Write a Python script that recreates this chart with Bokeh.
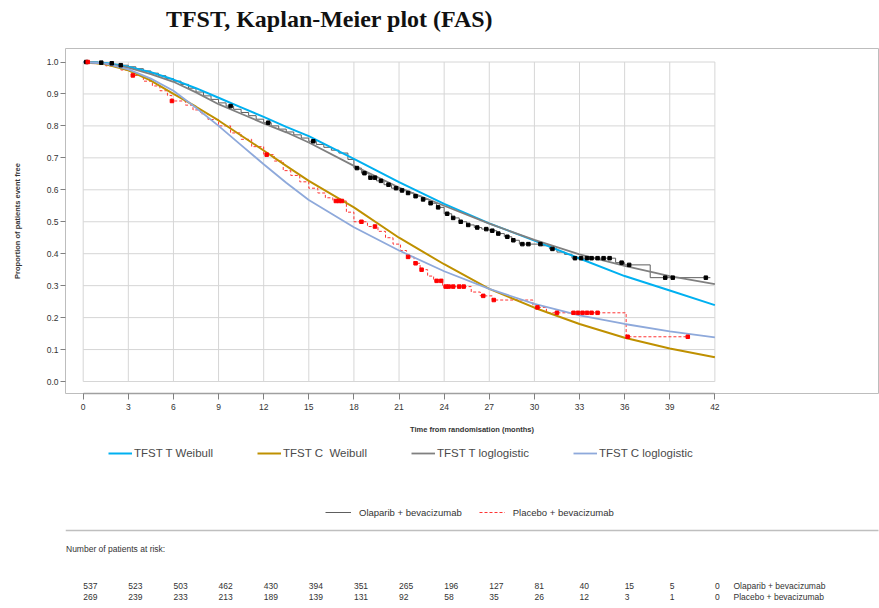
import numpy as np
from bokeh.plotting import figure
from bokeh.layouts import column
from bokeh.models import (Range1d, FixedTicker, Label, ColumnDataSource,
                          Legend, LegendItem, PrintfTickFormatter)
from bokeh.embed import file_html
from bokeh.resources import INLINE
from bokeh.core.properties import value

# ---------------- data ----------------
x_ticks = [0, 3, 6, 9, 12, 15, 18, 21, 24, 27, 30, 33, 36, 39, 42]
y_ticks = [0.0, 0.1, 0.2, 0.3, 0.4, 0.5, 0.6, 0.7, 0.8, 0.9, 1.0]

fit_t = [0, 1.5, 3, 4.5, 6, 7.5, 9, 10.5, 12, 13.5, 15, 18, 21, 24, 27, 30, 33, 36, 39, 42]
weibull_T = [1.0, 0.997, 0.985, 0.968, 0.945, 0.918, 0.888, 0.858, 0.828, 0.797, 0.768,
             0.697, 0.624, 0.556, 0.495, 0.441, 0.385, 0.330, 0.285, 0.239]
weibull_C = [1.0, 0.993, 0.974, 0.942, 0.900, 0.860, 0.817, 0.770, 0.723, 0.675, 0.628,
             0.545, 0.450, 0.367, 0.290, 0.231, 0.180, 0.137, 0.103, 0.076]
loglog_T = [1.0, 0.995, 0.982, 0.962, 0.938, 0.905, 0.868, 0.838, 0.808, 0.780, 0.748,
            0.675, 0.607, 0.550, 0.494, 0.443, 0.398, 0.362, 0.330, 0.305]
loglog_C = [1.0, 0.995, 0.977, 0.948, 0.910, 0.857, 0.800, 0.740, 0.680, 0.622, 0.568,
            0.483, 0.410, 0.345, 0.290, 0.243, 0.207, 0.180, 0.157, 0.138]

ola_t = [0, 0.5, 1.0, 1.5, 2.0, 2.5, 3.0, 3.5, 4.0, 4.5, 5.0, 5.5, 6.0, 6.5, 7.0, 7.5, 8.0,
         8.5, 9.0, 9.5, 10.0, 10.5, 11.0, 11.5, 12.0, 12.5, 13.0, 13.5, 14.0, 14.5, 15.0,
         15.5, 16.0, 16.5, 17.0, 17.6, 18.0, 18.5, 19.0, 19.5, 20.0, 20.5, 21.0, 21.5, 22.0,
         22.5, 23.0, 23.5, 24.0, 24.5, 25.0, 25.5, 26.0, 26.5, 27.0, 27.5, 28.0, 28.5, 29.0,
         30.5, 31.0, 31.5, 32.0, 32.5, 35.4, 36.0, 37.7, 41.7]
ola_s = [1.0, 1.0, 0.998, 0.996, 0.993, 0.990, 0.985, 0.979, 0.972, 0.965, 0.957, 0.948,
         0.940, 0.930, 0.918, 0.906, 0.894, 0.883, 0.872, 0.862, 0.852, 0.842, 0.832, 0.821,
         0.810, 0.800, 0.790, 0.781, 0.772, 0.762, 0.752, 0.742, 0.733, 0.724, 0.715, 0.695,
         0.668, 0.652, 0.638, 0.628, 0.616, 0.605, 0.598, 0.590, 0.580, 0.570, 0.558, 0.545,
         0.525, 0.512, 0.500, 0.490, 0.482, 0.477, 0.472, 0.463, 0.453, 0.442, 0.430, 0.425,
         0.415, 0.405, 0.398, 0.386, 0.372, 0.365, 0.325, 0.325]
ola_cens = [0.2, 1.2, 1.9, 2.5, 9.8, 12.3, 15.3, 18.2, 18.7, 19.1, 19.4, 19.8, 20.3, 20.8,
            21.2, 21.6, 22.1, 22.6, 23.1, 23.6, 24.2, 24.6, 25.1, 25.6, 26.2, 26.8, 27.2,
            27.6, 28.2, 28.6, 29.2, 29.6, 30.4, 31.2, 32.7, 33.1, 33.5, 33.8, 34.2, 34.6,
            35.0, 35.8, 36.3, 38.7, 39.2, 41.4]

pla_t = [0, 0.5, 1.5, 2.5, 3.2, 4.0, 4.6, 5.1, 5.6, 5.9, 6.8, 7.3, 7.8, 8.3, 9.0, 9.8, 10.5,
         11.2, 12.0, 12.7, 13.3, 13.8, 14.4, 15.0, 15.6, 16.1, 16.6, 17.5, 18.0, 18.9, 19.6,
         20.1, 20.6, 21.1, 21.5, 22.0, 22.4, 22.9, 23.3, 23.9, 25.8, 26.4, 27.2, 29.9, 30.8,
         36.1, 40.3]
pla_s = [1.0, 0.995, 0.988, 0.975, 0.958, 0.940, 0.925, 0.910, 0.895, 0.878, 0.865, 0.850,
         0.838, 0.820, 0.800, 0.778, 0.758, 0.735, 0.710, 0.690, 0.660, 0.645, 0.625, 0.605,
         0.590, 0.575, 0.565, 0.530, 0.500, 0.485, 0.470, 0.450, 0.430, 0.410, 0.390, 0.370,
         0.350, 0.330, 0.315, 0.297, 0.280, 0.268, 0.255, 0.232, 0.215, 0.140, 0.140]
pla_cens = [0.3, 3.3, 5.9, 12.2, 16.8, 17.0, 17.2, 18.5, 19.4, 21.6, 22.1, 22.5, 23.5, 23.8,
            24.1, 24.3, 24.6, 25.0, 25.3, 26.6, 27.3, 30.2, 31.5, 32.6, 32.9, 33.2, 33.5,
            33.8, 34.2, 36.2, 40.2]

risk_months = [0, 3, 6, 9, 12, 15, 18, 21, 24, 27, 30, 33, 36, 39, 42]
risk_ola = [537, 523, 503, 462, 430, 394, 351, 265, 196, 127, 81, 40, 15, 5, 0]
risk_pla = [269, 239, 233, 213, 189, 139, 131, 92, 58, 35, 26, 12, 3, 1, 0]

# ---------------- layout helpers (page pixel -> data) ----------------
W, H = 879, 608
TOP_H = 48                                   # title strip
FL, FT, FR, FB = 65, 48, 878, 393            # chart frame edges (page px)
MID_BOTTOM = 445                             # bottom of chart figure (page px)
X0PIX, PXM = 82.7, 15.04                     # x=0 pixel, pixels per month
Y0PIX, PXY = 381.0, 319.5                    # y=0 pixel, pixels per unit
NARROW = "Liberation Sans Narrow, Liberation Sans"
TXT = "#333333"


def dx(X):
    return (X - X0PIX) / PXM


def dy(Y):
    return (Y0PIX - Y) / PXY


def step_lookup(ts, ss, c):
    idx = np.searchsorted(np.array(ts), np.array(c), side="right") - 1
    return list(np.array(ss)[idx])


def blank(height, x_range, y_range):
    f = figure(width=W, height=height, output_backend="svg", toolbar_location=None,
               x_range=x_range, y_range=y_range, x_axis_location=None,
               y_axis_location=None, min_border=0, min_border_left=FL,
               min_border_right=W - FR, min_border_top=0, min_border_bottom=0)
    f.outline_line_color = None
    f.xgrid.visible = False
    f.ygrid.visible = False
    f.background_fill_color = "white"
    f.border_fill_color = "white"
    return f


# ---------------- title strip (frame aligned with the chart frame) ----------------
ft = blank(TOP_H, Range1d(FL, FR), Range1d(TOP_H, 0))
ft.add_layout(Label(x=329, y=18, text="TFST, Kaplan-Meier plot (FAS)",
                    text_font="Liberation Serif", text_font_style="bold",
                    text_font_size="24px", text_color="#111111",
                    text_align="center", text_baseline="middle"))

# ---------------- chart ----------------
p = figure(width=W, height=MID_BOTTOM - TOP_H, output_backend="svg", toolbar_location=None,
           x_range=Range1d(dx(FL), dx(FR)), y_range=Range1d(dy(FB), dy(FT)),
           min_border_left=FL, min_border_right=W - FR, min_border_top=0,
           min_border_bottom=MID_BOTTOM - FB)
p.background_fill_color = "white"
p.border_fill_color = "white"
p.outline_line_color = "#BDBDBD"
p.xgrid.visible = False
p.ygrid.visible = False

p.xaxis.ticker = FixedTicker(ticks=x_ticks)
p.xaxis.bounds = (x_ticks[0], x_ticks[-1])
p.xaxis.axis_line_color = "#A0A0A0"
p.xaxis.axis_line_width = 1.5
p.xaxis.major_tick_line_color = "#808080"
p.xaxis.major_tick_out = 6
p.xaxis.major_tick_in = 0
p.xaxis.minor_tick_line_color = None
p.xaxis.major_label_standoff = 4
p.xaxis.major_label_text_font = "Liberation Sans"
p.xaxis.major_label_text_font_size = "8.5px"
p.xaxis.major_label_text_color = TXT
p.xaxis.axis_label = "Time from randomisation (months)"
p.xaxis.axis_label_standoff = 12
p.xaxis.axis_label_text_font = "Liberation Sans"
p.xaxis.axis_label_text_font_style = "bold"
p.xaxis.axis_label_text_font_size = "7.5px"
p.xaxis.axis_label_text_color = TXT

p.yaxis.ticker = FixedTicker(ticks=y_ticks)
p.yaxis.bounds = (y_ticks[0], y_ticks[-1])
p.yaxis.formatter = PrintfTickFormatter(format="%.1f")
p.yaxis.axis_line_color = None
p.yaxis.major_tick_line_color = "#808080"
p.yaxis.major_tick_out = 5
p.yaxis.major_tick_in = 0
p.yaxis.minor_tick_line_color = None
p.yaxis.major_label_standoff = 2
p.yaxis.major_label_text_font = "Liberation Sans"
p.yaxis.major_label_text_font_size = "8.5px"
p.yaxis.major_label_text_color = TXT
p.yaxis.axis_label = "Proportion of patients event free"
p.yaxis.axis_label_standoff = 22
p.yaxis.axis_label_text_font = "Liberation Sans"
p.yaxis.axis_label_text_font_style = "bold"
p.yaxis.axis_label_text_font_size = "7.5px"
p.yaxis.axis_label_text_color = TXT

# grid limited to the data box
n_x, n_y = len(x_ticks), len(y_ticks)
p.segment(x0=x_ticks, x1=x_ticks, y0=[y_ticks[0]] * n_x, y1=[y_ticks[-1]] * n_x,
          line_color="#D6D6D6", line_width=1)
p.segment(x0=[x_ticks[0]] * n_y, x1=[x_ticks[-1]] * n_y, y0=y_ticks, y1=y_ticks,
          line_color="#D6D6D6", line_width=1)

# KM curves
OLA_STYLE = dict(line_color="#5E5E5E", line_width=1)
PLA_STYLE = dict(line_color="#FF3333", line_width=1, line_dash="3 2")
p.step(ola_t, ola_s, mode="after", **OLA_STYLE)
p.step(pla_t, pla_s, mode="after", **PLA_STYLE)

# fitted curves
FITS = [("TFST T Weibull", weibull_T, "#00B0F0", 2),
        ("TFST C  Weibull", weibull_C, "#BF9000", 2),
        ("TFST T loglogistic", loglog_T, "#808080", 1.8),
        ("TFST C loglogistic", loglog_C, "#8EA9DB", 1.8)]
for _, vals, col, lw in FITS:
    p.line(fit_t, vals, line_color=col, line_width=lw)

# censor marks
p.scatter(ola_cens, step_lookup(ola_t, ola_s, ola_cens), marker="square", size=3.5,
          color="black")
p.scatter(pla_cens, step_lookup(pla_t, pla_s, pla_cens), marker="square", size=3.5,
          color="#FF0000")

# ---------------- bottom strip: legends + risk table ----------------
BH = H - MID_BOTTOM
fb = blank(BH, Range1d(dx(FL), dx(FR)), Range1d(H, MID_BOTTOM))
NAN = [float("nan")]

leg1_items = []
for lab, _, col, lw in FITS:
    r = fb.line(NAN, NAN, line_color=col, line_width=lw)
    leg1_items.append(LegendItem(label=lab, renderers=[r]))
leg1 = Legend(items=leg1_items, orientation="horizontal", location=(108 - FL, H - 459),
              padding=0, margin=0, spacing=44, glyph_width=24, glyph_height=12,
              label_height=12, label_standoff=2, border_line_color=None,
              background_fill_alpha=0, label_text_font="Liberation Sans",
              label_text_font_size="11.5px", label_text_color="#4A4A4A")
fb.add_layout(leg1)

r_o = fb.line(NAN, NAN, **OLA_STYLE)
r_p = fb.line(NAN, NAN, **PLA_STYLE)
leg2 = Legend(items=[LegendItem(label="Olaparib + bevacizumab", renderers=[r_o]),
                     LegendItem(label="Placebo + bevacizumab", renderers=[r_p])],
              orientation="horizontal", location=(325 - FL, H - 518),
              padding=0, margin=0, spacing=17, glyph_width=26, glyph_height=12,
              label_height=12, label_standoff=8, border_line_color=None,
              background_fill_alpha=0, label_text_font=NARROW,
              label_text_font_size="9.5px", label_text_color=TXT)
fb.add_layout(leg2)

fb.segment(x0=[dx(FL)], x1=[dx(FR + 1)], y0=[530], y1=[530], line_color="#BFBFBF",
           line_width=1.5)

fb.add_layout(Label(x=dx(FL + 0.5), y=548, text="Number of patients at risk:",
                    text_font=NARROW, text_font_size="8.5px", text_color=TXT,
                    text_align="left", text_baseline="middle"))

n_r = len(risk_months)
src = ColumnDataSource(dict(x=risk_months, y1=[585] * n_r, y2=[596] * n_r,
                            t1=[str(v) for v in risk_ola],
                            t2=[str(v) for v in risk_pla]))
for ycol, tcol in (("y1", "t1"), ("y2", "t2")):
    fb.text(x="x", y=ycol, text=tcol, source=src, text_font=value(NARROW),
            text_font_size="8.5px", text_color=TXT, text_align="left",
            text_baseline="middle")
for yy, lab in ((585, "Olaparib + bevacizumab"), (596, "Placebo + bevacizumab")):
    fb.add_layout(Label(x=dx(733), y=yy, text=lab, text_font=NARROW,
                        text_font_size="8.5px", text_color=TXT,
                        text_align="left", text_baseline="middle"))

layout = column(ft, p, fb, spacing=0)
open("out.html", "w").write(file_html(layout, INLINE))
